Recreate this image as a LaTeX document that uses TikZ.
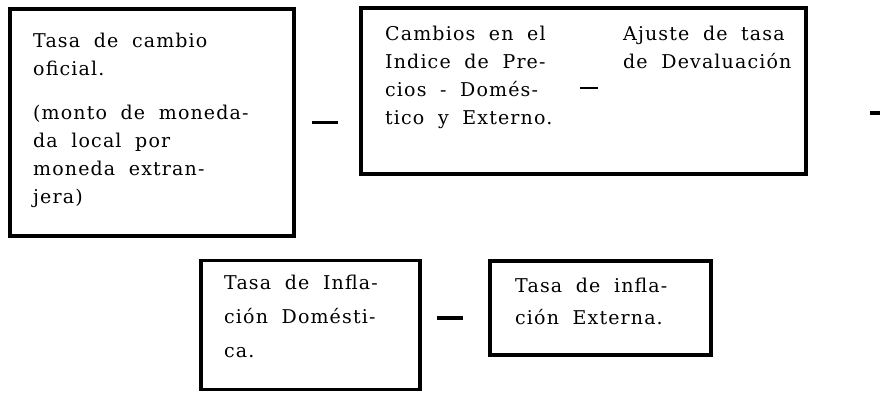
\documentclass[tikz,border=0pt]{standalone}
\usepackage{fontspec}
\setmainfont{DejaVu Serif}[LetterSpace=6,WordSpace={1.9,1,1}]
\usetikzlibrary{positioning}
\tikzset{
    frame/.style={rectangle, draw, line width=3.5pt, inner sep=0},
    txt/.style={anchor=north west, align=left, inner sep=0, font=\fontsize{19}{28}\selectfont},
    minus/.style={rectangle, fill=black, inner sep=0, minimum width=26pt, minimum height=3pt},
  }
\begin{document}
\begin{tikzpicture}[x=1pt,y=-1pt]
      \useasboundingbox (0,0) rectangle (880,392);
      % upper row
      \node (oficial) [frame, minimum width=284pt, minimum height=227pt] at (152,122.5) {};
      \node (cambios) [frame, minimum width=445pt, minimum height=166pt] at (583.5,91) {};
      \node (oficial-txt) [txt] at (33,33) {Tasa de cambio\\oficial.\\[16pt](monto de moneda-\\da local por\\moneda extran-\\jera)};
      \node (cambios-txt) [txt] at (385,26) {Cambios en el\\Indice de Pre-\\cios - Domés-\\tico y Externo.};
      \node (ajuste-txt) [txt] at (623,26) {Ajuste de tasa\\de Devaluación};
      \node (m1) [minus] at (325,122) {};
      \node (m2) [minus, minimum width=18pt, minimum height=2pt] at (589,88) {};
      \node (m4) [minus, minimum width=14pt, minimum height=4pt] at (877,113) {};
      % lower row
      \node (infdom) [frame, minimum width=219pt, minimum height=129pt] at (310.5,325) {};
      \node (infext) [frame, minimum width=221pt, minimum height=94pt] at (600.5,308) {};
      \node (infdom-txt) [txt, font=\fontsize{19}{34}\selectfont] at (224,275) {Tasa de Infla-\\ción Domésti-\\ca.};
      \node (infext-txt) [txt, font=\fontsize{19}{32}\selectfont] at (515,278) {Tasa de infla-\\ción Externa.};
      \node (m3) [minus, minimum height=4pt] at (450,318) {};
  \end{tikzpicture}
\end{document}
